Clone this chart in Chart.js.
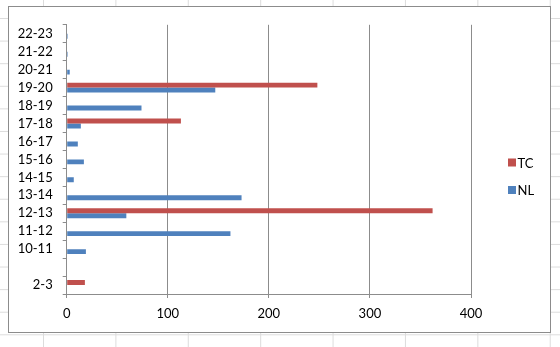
<!DOCTYPE html>
<html>
<head>
<meta charset="utf-8">
<script src="https://cdn.jsdelivr.net/npm/chart.js@4/dist/chart.umd.min.js"></script>
<style>
    html, body { margin: 0; padding: 0; }
    body {
        width: 560px; height: 347px; position: relative; overflow: hidden; background-color: #fff;
        background-image:
            linear-gradient(to right, #dcdcdc 1px, transparent 1px),
            linear-gradient(to bottom, #dcdcdc 1px, transparent 1px);
        background-size: 72.4px 22.6px;
        background-position: 43px 18px;
    }
    #box {
        position: absolute; left: 8px; top: 6px; width: 543px; height: 327px;
        box-sizing: border-box; border: 1px solid #8c8c8c; background: #fff;
    }
    #chart { display: block; }
</style>
</head>
<body>
<div id="box"><canvas id="chart" width="541" height="325"></canvas></div>
<script>
// categories listed top to bottom, as they appear on the chart
var hours = ['22-23', '21-22', '20-21', '19-20', '18-19', '17-18', '16-17', '15-16',
             '14-15', '13-14', '12-13', '11-12', '10-11', '', '2-3'];
var tcValues = [0, 0, 0, 248, 0, 113, 0, 0, 0, 0, 362, 0, 0, 0, 18];
var nlValues = [1, 1, 3, 147, 74, 14, 11, 17, 7, 173, 59, 162, 19, 0, 0];
var xTicks = [0, 100, 200, 300, 400];

var axisGray = '#8c8c8c';
var font = {family: 'Lato', size: 13};

// small legend on the right, like the excel one
var sideLegend = {
    id: 'sideLegend',
    afterDraw: function (chart) {
        var ctx = chart.ctx,
            x = chart.chartArea.right + 37,
            mid = chart.height / 2 - 7;
        ctx.save();
        ctx.font = '13px Lato';
        ctx.textBaseline = 'middle';
        chart.data.datasets.forEach(function (ds, i) {
            var y = mid + i * 27.5;
            ctx.fillStyle = ds.backgroundColor;
            ctx.fillRect(x, y - 4, 8, 8);
            ctx.fillStyle = '#000';
            ctx.fillText(ds.label, x + 9.5, y + 1);
        });
        ctx.restore();
    }
};

var ctx = document.getElementById('chart').getContext('2d');
var chart = new Chart(ctx, {
    type: 'bar',
    data: {
        labels: hours,
        datasets: [
            {label: 'TC', data: tcValues, backgroundColor: '#C0504D'},
            {label: 'NL', data: nlValues, backgroundColor: '#4F81BD'}
        ]
    },
    options: {
        indexAxis: 'y',
        responsive: false,
        animation: false,
        devicePixelRatio: 1,
        categoryPercentage: 0.55,
        barPercentage: 1,
        layout: {padding: {left: 0, top: 15, right: 79, bottom: 0}},
        plugins: {legend: {display: false}, tooltip: {enabled: false}},
        scales: {
            x: {
                min: xTicks[0],
                max: xTicks[xTicks.length - 1],
                afterBuildTicks: function (scale) {
                    scale.ticks = xTicks.map(function (v) { return {value: v}; });
                },
                afterFit: function (scale) { scale.height = 38; },
                grid: {color: axisGray, tickColor: axisGray, tickLength: 4},
                border: {color: axisGray},
                ticks: {color: '#000', font: font, padding: 8, maxRotation: 0}
            },
            y: {
                afterFit: function (scale) { scale.width = 57.7; },
                grid: {drawOnChartArea: false, tickColor: axisGray, tickLength: 4},
                border: {color: axisGray},
                ticks: {color: '#000', font: font, padding: 10, autoSkip: false}
            }
        }
    },
    plugins: [sideLegend]
});
</script>
</body>
</html>
